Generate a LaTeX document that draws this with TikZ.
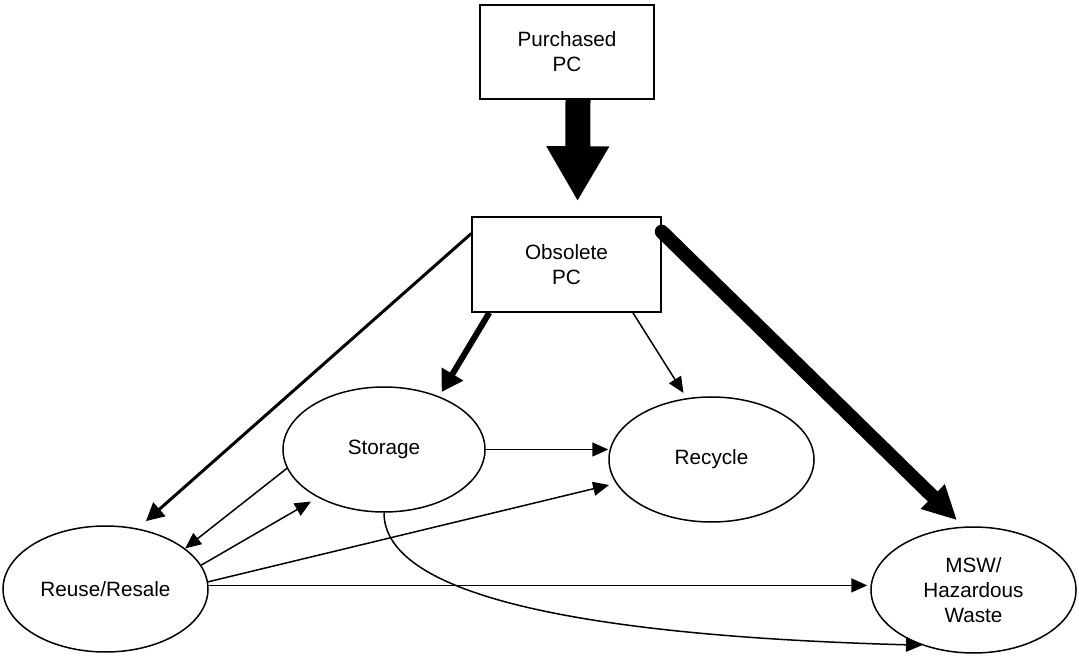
\documentclass[tikz,border=0pt]{standalone}
\usepackage{fontspec}
\setmainfont{Liberation Sans}
\usepackage{tikz}
\usetikzlibrary{arrows.meta,shapes.geometric}
\tikzset{%
	pcbox/.style     = {draw, rectangle, line width=0.75pt, align=center, inner sep=0pt, font=\fontsize{10.35}{12.5}\selectfont}, % PC box
	stage/.style     = {draw, ellipse, line width=0.75pt, align=center, inner sep=0pt, minimum width=102.5pt, minimum height=63pt, font=\fontsize{10.35}{12.5}\selectfont}, % end of life stage
}
\tikzset{%
	flow/.style      = {line width=0.75pt, -{Triangle[width=7pt,length=8pt]}},
	midflow/.style   = {line width=1.5pt, -{Triangle[width=9pt,length=9pt]}},
	thickflow/.style = {line width=3pt, -{Triangle[width=12pt,length=10.5pt]}},
	heavyflow/.style = {line width=7pt, line cap=round, -{Triangle[width=16pt,length=17pt]}},
	bigflow/.style   = {line width=12.5pt, -{Triangle[width=29.5pt,length=27.5pt]}},
}

\begin{document}
\begin{tikzpicture}[x=0.5pt,y=-0.5pt]
	\useasboundingbox (0,0) rectangle (1079,656);
	\node [pcbox, minimum width=87pt, minimum height=47pt] (purch) at (567,52) {Purchased\\ PC};
	\node [pcbox, minimum width=94.5pt, minimum height=47.5pt] (obs) at (566.5,264.5) {Obsolete\\PC};
	\node [stage, minimum width=101pt, minimum height=62.5pt] (stor) at (384,449.5) {Storage};
	\node [stage, minimum height=62.5pt] (recyc) at (711.5,459.5) {Recycle};
	\node [stage] (reuse) at (105.5,589) {Reuse/Resale};
	\node [stage] (msw) at (973.5,590) {MSW/\\Hazardous\\Waste};
	
	\draw [bigflow, shorten >=7.5pt] ([xshift=5.5pt]purch.south) -- ([xshift=5.5pt]obs.north);
	\draw [midflow, shorten >=5.5pt] (obs.162) -- (reuse.62);
	\draw [thickflow, shorten >=2.5pt] (obs.212.4) -- (stor.44);
	\draw [flow, shorten >=3pt] (obs.324.7) -- (recyc.112);
	\draw [heavyflow, shorten >=4.5pt] (obs.19) -- (msw.99);
	
	\draw [flow] (stor.east) -- (stor.east -| recyc.west);
	\draw [flow] (stor.191) -- (reuse.27);
	\draw [flow, shorten >=4pt] (reuse.14.5) -- (stor.216);
	\draw [flow, shorten >=3.5pt] (reuse.4.5) -- (recyc.194);
	\draw [flow, shorten >=1.5pt] (reuse.2) -- (reuse.2 -| msw.west);
	\draw [flow] (stor.south) .. controls +(0,78) and +(-362,-10) .. (msw.227);
\end{tikzpicture}
\end{document}
